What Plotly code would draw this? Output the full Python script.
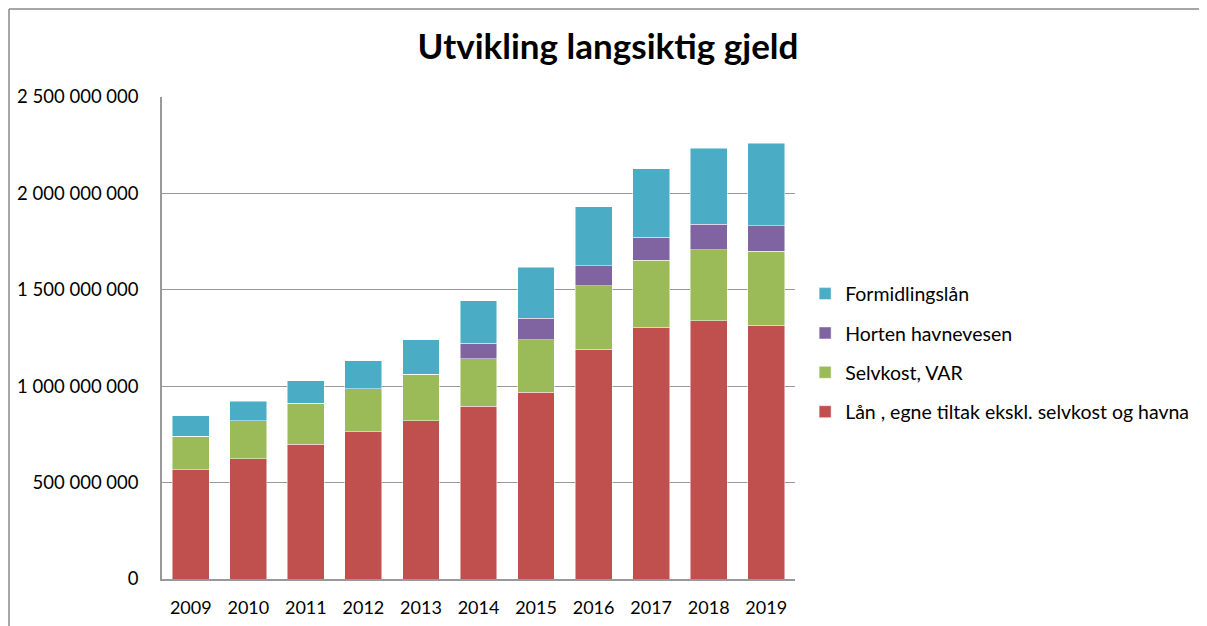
import plotly.graph_objects as go

years = ["2009", "2010", "2011", "2012", "2013", "2014", "2015", "2016", "2017", "2018", "2019"]
laan_egne = [566e6, 625e6, 699e6, 763e6, 820e6, 896e6, 969e6, 1192e6, 1306e6, 1339e6, 1315e6]
selvkost_var = [175e6, 197e6, 213e6, 223e6, 241e6, 246e6, 273e6, 329e6, 346e6, 370e6, 385e6]
horten_havn = [0, 0, 0, 0, 0, 81e6, 111e6, 105e6, 121e6, 131e6, 132e6]
formidling = [107e6, 99e6, 116e6, 147e6, 180e6, 221e6, 263e6, 304e6, 355e6, 394e6, 427e6]

series = [
    ("Lån , egne tiltak ekskl. selvkost og havna", laan_egne, "#C0504D"),
    ("Selvkost, VAR", selvkost_var, "#9BBB59"),
    ("Horten havnevesen", horten_havn, "#8064A2"),
    ("Formidlingslån", formidling, "#4BACC6"),
]

tick_vals = [0, 500e6, 1000e6, 1500e6, 2000e6, 2500e6]
tick_text = ["0", "500 000 000", "1 000 000 000", "1 500 000 000", "2 000 000 000", "2 500 000 000"]

fig = go.Figure()
n = len(series)
for i, (name, vals, col) in enumerate(series):
    fig.add_trace(go.Bar(
        x=years, y=vals, name=name, legendgroup=f"g{i}", legendrank=n - i,
        marker=dict(color=col, line=dict(color="rgba(255,255,255,0.6)", width=0.8)),
    ))

W, H = 1199, 618
ML, MR, MT, MB = 154, 412, 89, 47
PW, PH = W - ML - MR, H - MT - MB


def px_x(fx):
    return (fx - ML) / PW


def px_y(fy):
    return (H - MB - fy) / PH


border = dict(color="#888888", width=1.5)
font_family = "Lato, Open Sans, sans-serif"
fig.update_layout(
    barmode="stack",
    bargap=0.36,
    width=W, height=H,
    paper_bgcolor="white", plot_bgcolor="white",
    margin=dict(l=ML, r=MR, t=MT, b=MB, autoexpand=False),
    font=dict(family=font_family, size=18, color="black"),
    title=dict(text="<b>Utvikling langsiktig gjeld</b>", x=0.5004, xanchor="center",
               y=0.937, yanchor="middle", font=dict(size=35, family=font_family, color="black")),
    legend=dict(x=1.016, y=0.469, xanchor="left", yanchor="middle",
                traceorder="grouped", tracegroupgap=11,
                font=dict(size=19.5, family=font_family), itemwidth=30),
    yaxis=dict(range=[0, 2500e6], tickvals=tick_vals, ticktext=tick_text,
               showgrid=True, gridcolor="#999999", gridwidth=1.3,
               showline=True, linecolor="#999999", linewidth=1.5,
               ticks="", ticklabelstandoff=18, zeroline=False, automargin=False,
               tickfont=dict(size=18.5)),
    xaxis=dict(showline=True, linecolor="#999999", linewidth=1.5, automargin=False,
               ticks="", tickfont=dict(size=18), ticklabelstandoff=12),
    shapes=[
        dict(type="line", xref="paper", yref="paper", layer="above",
             x0=px_x(1), x1=px_x(1192), y0=px_y(1), y1=px_y(1), line=border),
        dict(type="line", xref="paper", yref="paper", layer="above",
             x0=px_x(1), x1=px_x(1), y0=px_y(1), y1=px_y(H), line=border),
        dict(type="line", xref="paper", yref="paper", layer="above",
             x0=px_x(1192), x1=px_x(1192), y0=px_y(1), y1=px_y(H), line=border),
    ],
    showlegend=True,
)

fig.write_html("out.html")
